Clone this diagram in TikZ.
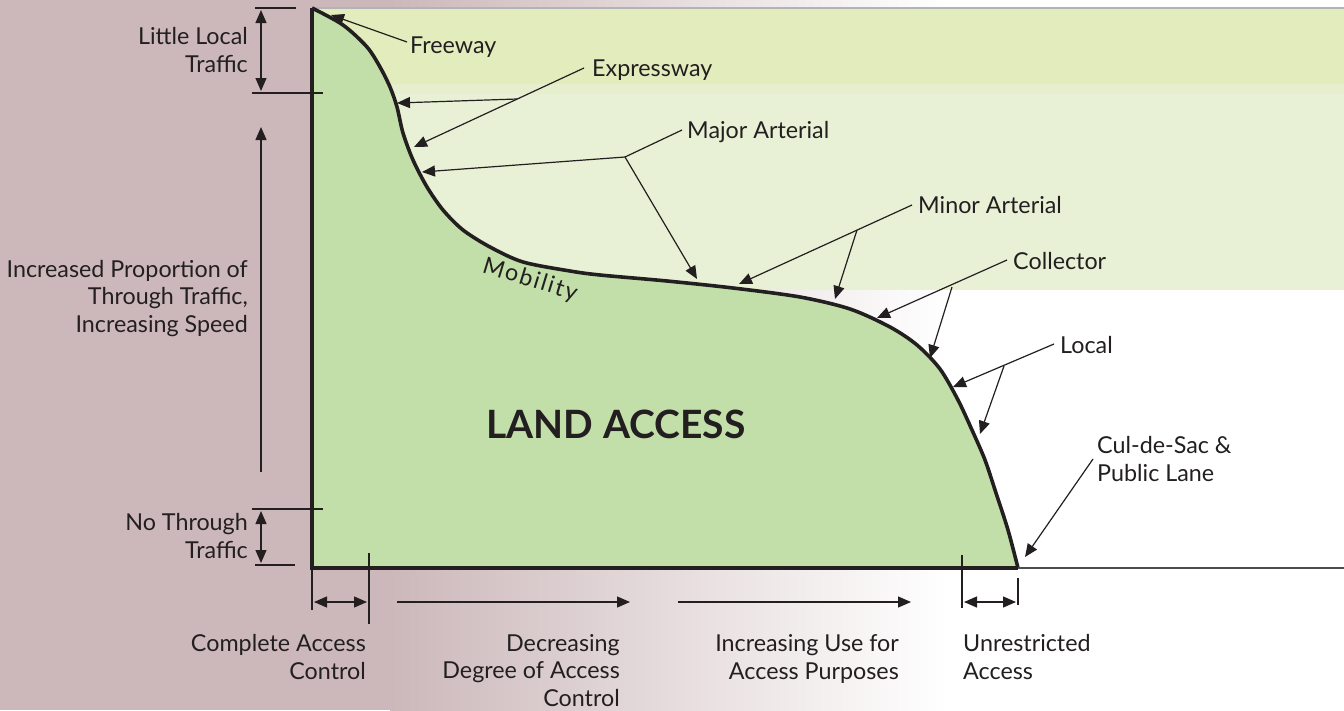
\documentclass[tikz,border=0pt]{standalone}
\usepackage{fontspec}
\setmainfont{Lato}
\usetikzlibrary{arrows.meta}
\definecolor{mauve}{RGB}{204,184,186}
\definecolor{bandA}{RGB}{227,236,189}
\definecolor{bandS}{RGB}{229,239,205}
\definecolor{bandB}{RGB}{232,241,213}
\definecolor{landgreen}{RGB}{195,223,169}
\definecolor{ink}{RGB}{35,31,32}
\definecolor{topline}{RGB}{180,180,182}
\tikzset{
  lbl/.style={font=\fontsize{23.3}{27.5}\selectfont, text=ink, inner sep=0pt},
  thin/.style={draw=ink, line width=1.2pt},
  arr/.style={thin, -{Triangle[length=13pt,width=11pt]}},
  dbl/.style={thin, {Triangle[length=13pt,width=11pt]}-{Triangle[length=13pt,width=11pt]}},
  axisline/.style={draw=ink, line width=4.2pt},
  curveline/.style={draw=ink, line width=3.6pt, line join=round},
}
\def\landcurve{(312,8) (343,25) (367,47) (380,67) (390,87) (397,107) (403,133) (413,160) (427,187) (443,210) (463,230) (490,247) (523,262) (570,271) (600,275) (667,281) (733,288) (800,297) (850,309) (890,327) (917,345) (940,369) (958,400) (972,430) (985,460) (996,493) (1008,530) (1018,568)}
\begin{document}
\begin{tikzpicture}[x=1pt,y=-1pt]
\useasboundingbox (0,0) rectangle (1344,710);
% background
\fill[mauve] (0,0) rectangle (391,710);
\shade[left color=mauve, right color=white] (390,0) rectangle (947,710);
\fill[white] (946.5,0) rectangle (1344,710);
% bands
\fill[bandA] (312,8) rectangle (1344,84);
\fill[bandS] (312,84) rectangle (1344,94);
\fill[bandB] (312,94) rectangle (1344,290);
\draw[topline, line width=1.5pt] (312,8) -- (1344,8);
% land access area
\fill[landgreen] plot[smooth, tension=0.5] coordinates {\landcurve} -- (312,568) -- cycle;
\draw[curveline] plot[smooth, tension=0.5] coordinates {\landcurve};
% axes
\coordinate (O) at (312,568);
\coordinate (Ytop) at (312,8);
\coordinate (Xend) at (1018,568);
\coordinate (Xfar) at (1344,568);
\draw[draw=ink!80, line width=1.2pt] (Xend) -- (Xfar);
\draw[axisline] (Ytop) -- (O) -- (Xend);
% left ticks
\coordinate (t1a) at (255,8);   \coordinate (t1b) at (296,8);
\coordinate (t2a) at (252,93);  \coordinate (t2b) at (323,93);
\coordinate (t3a) at (252,509); \coordinate (t3b) at (323,509);
\coordinate (t4a) at (255,565); \coordinate (t4b) at (295,565);
\draw[thin] (t1a) -- (t1b);
\draw[thin] (t2a) -- (t2b);
\draw[thin] (t3a) -- (t3b);
\draw[thin] (t4a) -- (t4b);
\coordinate (d1a) at (261,10);  \coordinate (d1b) at (261,91);
\coordinate (d2a) at (261,472); \coordinate (d2b) at (261,127);
\coordinate (d3a) at (261,511); \coordinate (d3b) at (261,563);
\draw[dbl] (d1a) -- (d1b);
\draw[arr] (d2a) -- (d2b);
\draw[dbl] (d3a) -- (d3b);
\node[lbl, align=right, anchor=base east] (little) at (248,72) {Little Local\\Traffic};
\node[lbl, align=right, anchor=base east] (incr) at (248,332) {Increased Proportion of\\Through Traffic,\\Increasing Speed};
\node[lbl, align=right, anchor=base east] (nothru) at (248,558) {No Through\\Traffic};
% bottom ticks
\coordinate (b1a) at (312,570); \coordinate (b1b) at (312,610);
\coordinate (b2a) at (369,553); \coordinate (b2b) at (369,624);
\coordinate (b3a) at (962,555); \coordinate (b3b) at (962,608);
\coordinate (b4a) at (1018,578); \coordinate (b4b) at (1018,605);
\draw[thin] (b1a) -- (b1b);
\draw[thin] (b2a) -- (b2b);
\draw[thin] (b3a) -- (b3b);
\draw[thin] (b4a) -- (b4b);
\coordinate (h1a) at (314,602); \coordinate (h1b) at (367,602);
\coordinate (h2a) at (397,602); \coordinate (h2b) at (630,602);
\coordinate (h3a) at (678,602); \coordinate (h3b) at (911,602);
\coordinate (h4a) at (964,602); \coordinate (h4b) at (1016,602);
\draw[dbl] (h1a) -- (h1b);
\draw[arr] (h2a) -- (h2b);
\draw[arr] (h3a) -- (h3b);
\draw[dbl] (h4a) -- (h4b);
\node[lbl, align=right, anchor=base east] (cac) at (366,679) {Complete Access\\Control};
\node[lbl, align=right, anchor=base east] (dec) at (620,706) {Decreasing\\Degree of Access\\Control};
\node[lbl, align=right, anchor=base east] (inc) at (899,679) {Increasing Use for\\Access Purposes};
\node[lbl, align=left, anchor=base west] (unr) at (963,679) {Unrestricted\\Access};
% central labels
\node[lbl, font=\fontsize{39}{41}\bfseries\selectfont] (land) at (616,424) {LAND ACCESS};
\node[lbl, rotate=-17, font=\fontsize{23.3}{27.5}\selectfont\addfontfeature{LetterSpace=8}] (mob) at (530,280) {Mobility};
% right labels
\node[lbl, anchor=base west] (fw) at (410,53) {Freeway};
\node[lbl, anchor=base west] (ex) at (592,76) {Expressway};
\node[lbl, anchor=base west] (ma) at (687,138) {Major Arterial};
\node[lbl, anchor=base west] (mi) at (918,213) {Minor Arterial};
\node[lbl, anchor=base west] (co) at (1013,269) {Collector};
\node[lbl, anchor=base west] (lo) at (1060,353) {Local};
\node[lbl, align=left, anchor=base west] (cul) at (1097,481) {Cul-de-Sac \&\\Public Lane};
% leaders
\coordinate (fwS) at (407,42);  \coordinate (fwT) at (331,15);
\draw[arr] (fwS) -- (fwT);
\coordinate (exS) at (584,68);  \coordinate (exT) at (414,147);
\coordinate (exJ) at (517,99);  \coordinate (exT2) at (397,103);
\draw[arr] (exS) -- (exT);
\draw[arr] (exJ) -- (exT2);
\coordinate (maS) at (682,130); \coordinate (maJ) at (625,157);
\coordinate (maT1) at (422,172); \coordinate (maT2) at (697,279);
\draw[thin] (maS) -- (maJ);
\draw[arr] (maJ) -- (maT1);
\draw[arr] (maJ) -- (maT2);
\coordinate (miS) at (912,205); \coordinate (miT) at (739,284);
\coordinate (miJ) at (857,230); \coordinate (miT2) at (835,299);
\draw[arr] (miS) -- (miT);
\draw[arr] (miJ) -- (miT2);
\coordinate (coS) at (1007,260); \coordinate (coT) at (877,318);
\coordinate (coJ) at (952,287);  \coordinate (coT2) at (930,358);
\draw[arr] (coS) -- (coT);
\draw[arr] (coJ) -- (coT2);
\coordinate (loS) at (1054,344); \coordinate (loT) at (953,387);
\coordinate (loJ) at (1004,366); \coordinate (loT2) at (980,434);
\draw[arr] (loS) -- (loT);
\draw[arr] (loJ) -- (loT2);
\coordinate (cuS) at (1093,459); \coordinate (cuT) at (1025,557);
\draw[arr] (cuS) -- (cuT);
\end{tikzpicture}
\end{document}
